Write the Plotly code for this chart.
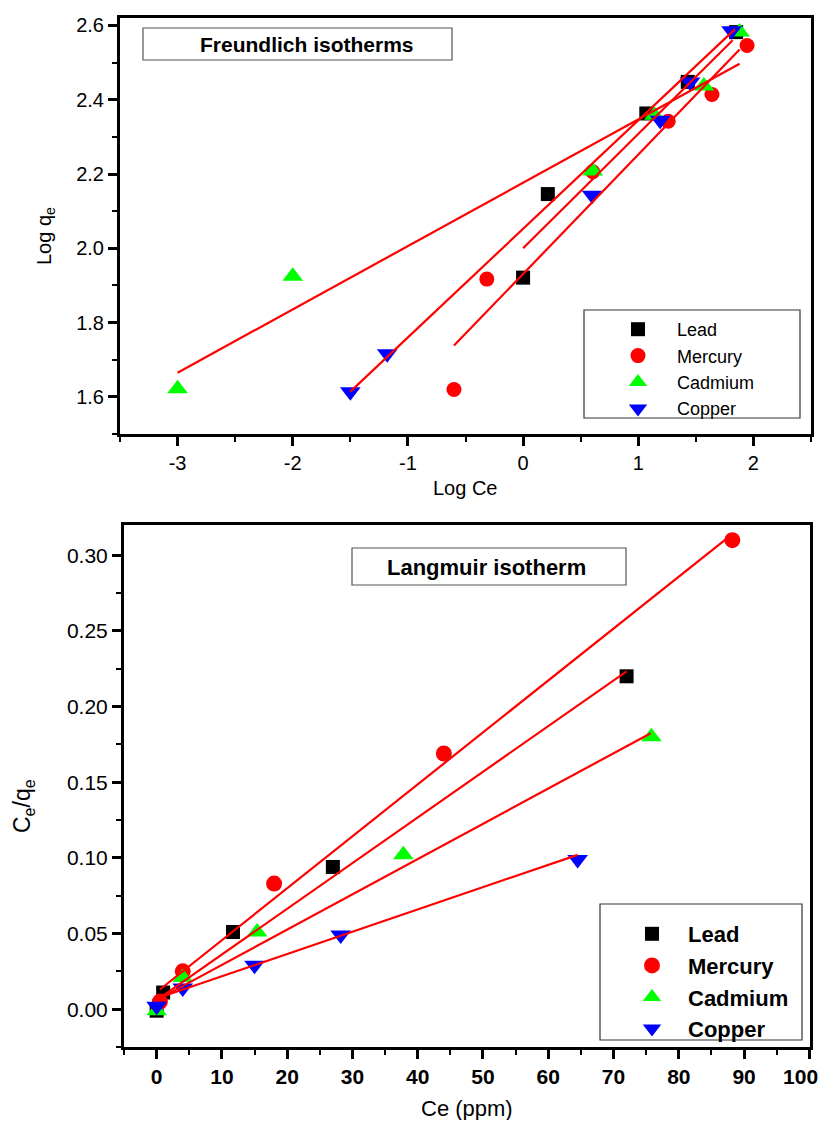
import plotly.graph_objects as go

FONT = "Liberation Sans, Arial, sans-serif"
PAGE_W, PAGE_H = 829, 1128
MARGIN = 8  # default body margin of the html page
W, H = PAGE_W - 2 * MARGIN, PAGE_H - 2 * MARGIN

metals = ["Lead", "Mercury", "Cadmium", "Copper"]
colors = ["#000000", "#FF0000", "#00FF00", "#0000FF"]
symbols = ["square", "circle", "triangle-up", "triangle-down"]

# ---------------- Freundlich (Log Ce vs Log qe) ----------------
fr_lead_x = [0.0, 0.215, 1.07, 1.43, 1.85]
fr_lead_y = [1.921, 2.146, 2.363, 2.448, 2.582]
fr_mercury_x = [-0.6, -0.315, 0.605, 1.26, 1.64, 1.945]
fr_mercury_y = [1.62, 1.917, 2.206, 2.342, 2.414, 2.546]
fr_cadmium_x = [-3.0, -2.0, 0.605, 1.14, 1.57, 1.88]
fr_cadmium_y = [1.622, 1.925, 2.208, 2.358, 2.437, 2.582]
fr_copper_x = [-1.5, -1.18, 0.6, 1.19, 1.45, 1.81]
fr_copper_y = [1.614, 1.716, 2.143, 2.345, 2.448, 2.586]

fr_fit_lead_x = [0.0, 1.82]
fr_fit_lead_y = [2.0, 2.56]
fr_fit_mercury_x = [-0.6, 1.88]
fr_fit_mercury_y = [1.738, 2.535]
fr_fit_cadmium_x = [-3.0, 1.88]
fr_fit_cadmium_y = [1.665, 2.497]
fr_fit_copper_x = [-1.5, 1.84]
fr_fit_copper_y = [1.614, 2.59]

fr_xtick_vals = [-3, -2, -1, 0, 1, 2]
fr_xtick_text = ["-3", "-2", "-1", "0", "1", "2"]
fr_ytick_vals = [1.6, 1.8, 2.0, 2.2, 2.4, 2.6]
fr_ytick_text = ["1.6", "1.8", "2.0", "2.2", "2.4", "2.6"]

# ---------------- Langmuir (Ce vs Ce/qe) ----------------
lg_lead_x = [0.0, 1.0, 11.7, 27.0, 72.0]
lg_lead_y = [-0.001, 0.011, 0.051, 0.094, 0.22]
lg_mercury_x = [0.5, 4.0, 18.0, 44.0, 88.2]
lg_mercury_y = [0.005, 0.025, 0.083, 0.169, 0.31]
lg_cadmium_x = [0.0, 4.0, 15.4, 37.8, 75.8]
lg_cadmium_y = [-0.001, 0.021, 0.051, 0.102, 0.18]
lg_copper_x = [0.0, 4.0, 15.0, 28.2, 64.5]
lg_copper_y = [0.002, 0.014, 0.029, 0.049, 0.099]

lg_fit_lead_x = [0.0, 72.0]
lg_fit_lead_y = [0.006, 0.2233]
lg_fit_mercury_x = [0.5, 88.1]
lg_fit_mercury_y = [0.013, 0.3137]
lg_fit_cadmium_x = [0.0, 75.7]
lg_fit_cadmium_y = [0.006, 0.1824]
lg_fit_copper_x = [0.0, 64.5]
lg_fit_copper_y = [0.007, 0.102]

lg_xtick_vals = [0, 10, 20, 30, 40, 50, 60, 70, 80, 90, 100]
# trailing no-break spaces keep the last label inside the drawing area
lg_xtick_text = ["0", "10", "20", "30", "40", "50", "60", "70", "80", "90", "100\u00a0\u00a0\u00a0"]
lg_ytick_vals = [0.0, 0.05, 0.10, 0.15, 0.20, 0.25, 0.30]
lg_ytick_text = ["0.00", "0.05", "0.10", "0.15", "0.20", "0.25", "0.30"]

fr_points = [(fr_lead_x, fr_lead_y), (fr_mercury_x, fr_mercury_y),
             (fr_cadmium_x, fr_cadmium_y), (fr_copper_x, fr_copper_y)]
fr_fits = [(fr_fit_lead_x, fr_fit_lead_y), (fr_fit_mercury_x, fr_fit_mercury_y),
           (fr_fit_cadmium_x, fr_fit_cadmium_y), (fr_fit_copper_x, fr_fit_copper_y)]
lg_points = [(lg_lead_x, lg_lead_y), (lg_mercury_x, lg_mercury_y),
             (lg_cadmium_x, lg_cadmium_y), (lg_copper_x, lg_copper_y)]
lg_fits = [(lg_fit_lead_x, lg_fit_lead_y), (lg_fit_mercury_x, lg_fit_mercury_y),
           (lg_fit_cadmium_x, lg_fit_cadmium_y), (lg_fit_copper_x, lg_fit_copper_y)]

fr_sizes = [14, 15, 18, 18]
lg_sizes = [14, 16, 18, 18]


def px(v):
    # page pixel -> paper fraction
    return (v - MARGIN) / W


def py(v):
    return 1 - (v - MARGIN) / H


fig = go.Figure()

for i, (xs, ys) in enumerate(fr_points):
    fig.add_trace(go.Scatter(x=xs, y=ys, mode="markers", name=metals[i],
                             marker=dict(symbol=symbols[i], color=colors[i], size=fr_sizes[i], line=dict(width=0)),
                             xaxis="x", yaxis="y", legend="legend"))
for xs, ys in fr_fits:
    fig.add_trace(go.Scatter(x=xs, y=ys, mode="lines", line=dict(color="#FF0000", width=2.2),
                             showlegend=False, xaxis="x", yaxis="y", hoverinfo="skip"))

for i, (xs, ys) in enumerate(lg_points):
    fig.add_trace(go.Scatter(x=xs, y=ys, mode="markers", name=metals[i],
                             marker=dict(symbol=symbols[i], color=colors[i], size=lg_sizes[i], line=dict(width=0)),
                             xaxis="x2", yaxis="y2", legend="legend2"))
for xs, ys in lg_fits:
    fig.add_trace(go.Scatter(x=xs, y=ys, mode="lines", line=dict(color="#FF0000", width=2.2),
                             showlegend=False, xaxis="x2", yaxis="y2", hoverinfo="skip"))

common = dict(showline=True, linecolor="black", linewidth=3, mirror=True,
              ticks="outside", ticklen=9, tickwidth=2.5, tickcolor="black",
              showgrid=False, zeroline=False, tickmode="array", automargin=False)


def minor(t0, dt):
    return dict(tickmode="linear", tick0=t0, dtick=dt, ticks="outside", ticklen=5,
                tickwidth=2, tickcolor="black", showgrid=False)


fig.update_layout(
    width=W, height=H, autosize=False,
    margin=dict(l=0, r=0, t=0, b=0, autoexpand=False),
    paper_bgcolor="white", plot_bgcolor="white",
    font=dict(family=FONT, color="black"),
    xaxis=dict(common, domain=[px(120), px(811)], range=[-3.5, 2.5], anchor="y",
               tickvals=fr_xtick_vals, ticktext=fr_xtick_text,
               tickfont=dict(family=FONT, size=20), minor=minor(-3.5, 0.5)),
    yaxis=dict(common, domain=[py(434), py(18)], range=[1.5, 2.62], anchor="x",
               tickvals=fr_ytick_vals, ticktext=fr_ytick_text,
               tickfont=dict(family=FONT, size=20), minor=minor(1.5, 0.1)),
    xaxis2=dict(common, domain=[px(124), px(810)], range=[-5, 100.1], anchor="y2",
                tickvals=lg_xtick_vals, ticktext=lg_xtick_text, ticklabeloverflow="allow",
                tickfont=dict(family=FONT, size=21, weight="bold"), minor=minor(-5, 5)),
    yaxis2=dict(common, domain=[py(1047), py(525)], range=[-0.025, 0.32], anchor="x2",
                tickvals=lg_ytick_vals, ticktext=lg_ytick_text,
                tickfont=dict(family=FONT, size=21), minor=minor(0.0, 0.025)),
    legend=dict(x=px(599), y=py(311), xanchor="left", yanchor="top",
                font=dict(family=FONT, size=18, color="black"), itemwidth=68,
                bgcolor="rgba(0,0,0,0)", borderwidth=0),
    legend2=dict(x=px(616), y=py(913), xanchor="left", yanchor="top",
                 font=dict(family=FONT, size=22, color="black", weight="bold"), itemwidth=62,
                 bgcolor="rgba(0,0,0,0)", borderwidth=0),
    showlegend=True,
)

shapes = [
    dict(type="rect", xref="paper", yref="paper", x0=px(143), x1=px(452), y0=py(60), y1=py(28),
         line=dict(color="#555555", width=1.2), fillcolor="rgba(0,0,0,0)"),
    dict(type="rect", xref="paper", yref="paper", x0=px(352), x1=px(626), y0=py(585), y1=py(548),
         line=dict(color="#555555", width=1.2), fillcolor="rgba(0,0,0,0)"),
    dict(type="rect", xref="paper", yref="paper", x0=px(584), x1=px(800), y0=py(418), y1=py(310),
         line=dict(color="#333333", width=1.2), fillcolor="rgba(0,0,0,0)"),
    dict(type="rect", xref="paper", yref="paper", x0=px(600), x1=px(802), y0=py(1040), y1=py(904),
         line=dict(color="#333333", width=1.2), fillcolor="rgba(0,0,0,0)"),
]
fig.update_layout(shapes=shapes)

ann = [
    dict(text="<b>Freundlich isotherms</b>", x=px(307), y=py(44), font=dict(size=21)),
    dict(text="<b>Langmuir isotherm</b>", x=px(486), y=py(567), font=dict(size=22)),
    dict(text="Log Ce", x=px(465), y=py(488), font=dict(size=20)),
    dict(text="Log q<sub>e</sub>", x=px(45), y=py(236), font=dict(size=20), textangle=-90),
    dict(text="Ce (ppm)", x=px(467), y=py(1108), font=dict(size=22)),
    dict(text="C<sub>e</sub>/q<sub>e</sub>", x=px(23), y=py(806), font=dict(size=23), textangle=-90),
]
for a in ann:
    a.update(xref="paper", yref="paper", showarrow=False, xanchor="center", yanchor="middle")
    a["font"].update(family=FONT, color="black")
fig.update_layout(annotations=ann)

fig.write_html("out.html", config={"displayModeBar": False})
